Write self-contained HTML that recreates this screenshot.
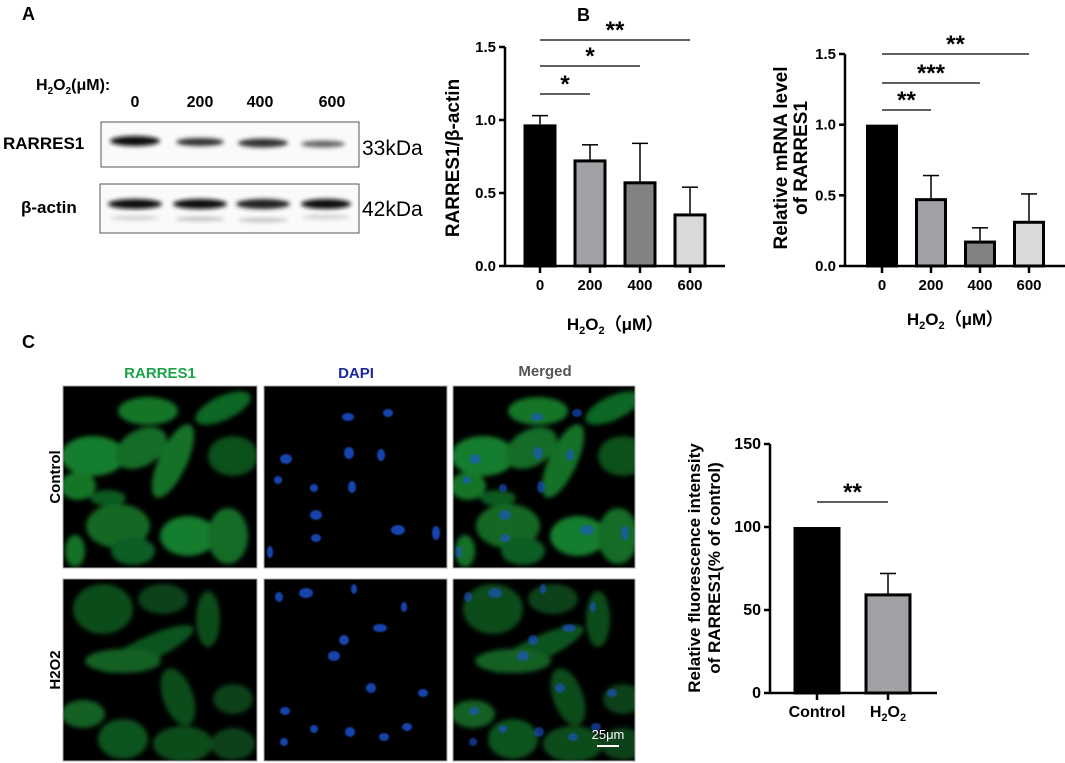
<!DOCTYPE html>
<html><head><meta charset="utf-8"><style>
html,body{margin:0;padding:0;background:#fff;}
svg{display:block;font-family:"Liberation Sans",Arial,sans-serif;}
.b{font-weight:bold;}
</style></head><body>
<svg id="fig" width="1065" height="763" viewBox="0 0 1065 763" xmlns="http://www.w3.org/2000/svg">
<defs>
<filter id="blurG" x="-20%" y="-20%" width="140%" height="140%"><feGaussianBlur stdDeviation="2.5"/></filter>
<filter id="blurB" x="-50%" y="-50%" width="200%" height="200%"><feGaussianBlur stdDeviation="0.8"/></filter>
<filter id="blurBand" x="-20%" y="-100%" width="140%" height="300%"><feGaussianBlur stdDeviation="2"/></filter>
<clipPath id="cp1"><rect x="0" y="0" width="194" height="182"/></clipPath>
<clipPath id="cp3"><rect x="0" y="0" width="182" height="182"/></clipPath>
<g id="cellsCtrl" opacity="0.85">
<ellipse cx="85" cy="25" rx="30" ry="14" fill="#178a30"/>
<ellipse cx="160" cy="22" rx="30" ry="12" fill="#137a2a" transform="rotate(-25 160 22)"/>
<ellipse cx="30" cy="70" rx="32" ry="20" fill="#1a9535"/>
<ellipse cx="78" cy="62" rx="28" ry="18" fill="#157f2e" transform="rotate(-30 78 62)"/>
<ellipse cx="110" cy="75" rx="14" ry="40" fill="#168530" transform="rotate(25 110 75)"/>
<ellipse cx="170" cy="70" rx="25" ry="20" fill="#0f5f22"/>
<ellipse cx="15" cy="100" rx="18" ry="14" fill="#178a30"/>
<ellipse cx="45" cy="112" rx="18" ry="8" fill="#126a26"/>
<ellipse cx="55" cy="140" rx="32" ry="22" fill="#157a2c"/>
<ellipse cx="125" cy="150" rx="28" ry="20" fill="#1a9535"/>
<ellipse cx="165" cy="150" rx="20" ry="28" fill="#157f2e"/>
<ellipse cx="70" cy="165" rx="22" ry="14" fill="#136f28"/>
<ellipse cx="12" cy="165" rx="10" ry="16" fill="#168530"/>
</g>
<g id="nucCtrl" fill="#1f55d8">
<ellipse cx="84" cy="31" rx="6" ry="4"/><ellipse cx="124" cy="27" rx="5" ry="4"/>
<ellipse cx="22" cy="73" rx="6" ry="5"/><ellipse cx="85" cy="67" rx="5" ry="6"/><ellipse cx="117" cy="69" rx="4" ry="6"/>
<ellipse cx="14" cy="94" rx="4" ry="4"/><ellipse cx="50" cy="102" rx="4" ry="4"/><ellipse cx="88" cy="101" rx="4" ry="6"/>
<ellipse cx="52" cy="129" rx="6" ry="5"/><ellipse cx="134" cy="144" rx="7" ry="5"/><ellipse cx="172" cy="147" rx="4" ry="7"/>
<ellipse cx="52" cy="152" rx="5" ry="4"/><ellipse cx="6" cy="166" rx="3" ry="6"/>
</g>
<g id="cellsH" opacity="0.8">
<ellipse cx="40" cy="30" rx="30" ry="25" fill="#125f24"/>
<ellipse cx="100" cy="20" rx="25" ry="15" fill="#0f5220"/>
<ellipse cx="145" cy="40" rx="12" ry="28" fill="#125f24"/>
<ellipse cx="85" cy="70" rx="50" ry="12" fill="#136a26" transform="rotate(-25 85 70)"/>
<ellipse cx="60" cy="82" rx="38" ry="12" fill="#16782c"/>
<ellipse cx="115" cy="118" rx="15" ry="30" fill="#125f24" transform="rotate(-20 115 118)"/>
<ellipse cx="20" cy="135" rx="22" ry="14" fill="#167a2c"/>
<ellipse cx="170" cy="120" rx="20" ry="15" fill="#0f5220"/>
<ellipse cx="60" cy="160" rx="25" ry="20" fill="#136a26"/>
<ellipse cx="120" cy="165" rx="30" ry="18" fill="#125f24"/>
<ellipse cx="170" cy="165" rx="22" ry="16" fill="#0f5220"/>
</g>
<g id="nucH" fill="#1f55d8">
<ellipse cx="15" cy="18" rx="4" ry="5"/><ellipse cx="42" cy="14" rx="7" ry="5"/><ellipse cx="90" cy="10" rx="3" ry="5"/>
<ellipse cx="140" cy="28" rx="3" ry="5"/><ellipse cx="116" cy="49" rx="7" ry="4"/><ellipse cx="80" cy="61" rx="5" ry="5"/>
<ellipse cx="70" cy="77" rx="6" ry="5"/><ellipse cx="107" cy="109" rx="5" ry="5"/><ellipse cx="159" cy="114" rx="5" ry="4"/>
<ellipse cx="21" cy="132" rx="5" ry="4"/><ellipse cx="50" cy="150" rx="4" ry="4"/><ellipse cx="86" cy="153" rx="5" ry="5"/>
<ellipse cx="120" cy="158" rx="5" ry="4"/><ellipse cx="20" cy="163" rx="4" ry="4"/><ellipse cx="143" cy="148" rx="5" ry="4"/>
</g>
</defs>

<!-- Panel labels -->
<text class="b" x="22" y="20" font-size="18">A</text>
<text class="b" x="577" y="21" font-size="18">B</text>
<text class="b" x="22" y="348" font-size="18">C</text>

<!-- Western blot -->
<g>
<text class="b" x="36" y="90" font-size="16">H<tspan font-size="10" dy="4">2</tspan><tspan dy="-4">O</tspan><tspan font-size="10" dy="4">2</tspan><tspan dy="-4">(μM):</tspan></text>
<text class="b" x="135" y="107" font-size="16" text-anchor="middle">0</text>
<text class="b" x="200" y="107" font-size="16" text-anchor="middle">200</text>
<text class="b" x="260" y="107" font-size="16" text-anchor="middle">400</text>
<text class="b" x="332" y="107" font-size="16" text-anchor="middle">600</text>
<text class="b" x="3" y="149" font-size="17">RARRES1</text>
<text class="b" x="21" y="213" font-size="17">β-actin</text>
<rect x="101" y="122" width="258" height="45" fill="#fafafa" stroke="#555" stroke-width="1"/>
<rect x="100" y="184" width="259" height="49" fill="#fafafa" stroke="#555" stroke-width="1"/>
<g filter="url(#blurBand)">
<ellipse cx="135" cy="141" rx="25" ry="5" fill="#111"/>
<ellipse cx="200" cy="142" rx="24" ry="4" fill="#333"/>
<ellipse cx="263" cy="143" rx="25" ry="4.5" fill="#333"/>
<ellipse cx="323" cy="144" rx="22" ry="3.5" fill="#666"/>
<ellipse cx="135" cy="204" rx="27" ry="5" fill="#111"/>
<ellipse cx="200" cy="204" rx="27" ry="5" fill="#111"/>
<ellipse cx="263" cy="204" rx="27" ry="5" fill="#222"/>
<ellipse cx="326" cy="204" rx="25" ry="5" fill="#111"/>
<ellipse cx="135" cy="218" rx="25" ry="2" fill="#ccc"/>
<ellipse cx="200" cy="219" rx="25" ry="2" fill="#bbb"/>
<ellipse cx="263" cy="220" rx="25" ry="2" fill="#bbb"/>
<ellipse cx="326" cy="217" rx="24" ry="2" fill="#ccc"/>
</g>
<text x="362" y="155" font-size="21">33kDa</text>
<text x="362" y="216" font-size="21">42kDa</text>
</g>

<g id="chartA"></g>
<g id="chartB"></g>
<g id="chartC"></g>

<!-- Microscopy -->
<g>
<text class="b" x="160" y="378" font-size="15" fill="#1aa34a" text-anchor="middle">RARRES1</text>
<text class="b" x="356" y="378" font-size="15" fill="#1a2a9a" text-anchor="middle">DAPI</text>
<text class="b" x="545" y="376" font-size="15" fill="#555" text-anchor="middle">Merged</text>
<text class="b" font-size="15" transform="translate(60 477) rotate(-90)" text-anchor="middle">Control</text>
<text class="b" font-size="15" transform="translate(60 670) rotate(-90)" text-anchor="middle">H2O2</text>

<g transform="translate(63 386)"><rect width="194" height="182" fill="#000"/><g clip-path="url(#cp1)"><use href="#cellsCtrl" filter="url(#blurG)"/></g><rect width="194" height="182" fill="none" stroke="#aaa"/></g>
<g transform="translate(264 386)"><rect width="183" height="182" fill="#000"/><use href="#nucCtrl" filter="url(#blurB)" opacity="0.8"/><rect width="183" height="182" fill="none" stroke="#aaa"/></g>
<g transform="translate(453 386)"><rect width="182" height="182" fill="#000"/><g clip-path="url(#cp3)"><use href="#cellsCtrl" filter="url(#blurG)"/><use href="#nucCtrl" filter="url(#blurB)" opacity="0.6"/></g><rect width="182" height="182" fill="none" stroke="#aaa"/></g>

<g transform="translate(63 579)"><rect width="194" height="182" fill="#000"/><g clip-path="url(#cp1)"><use href="#cellsH" filter="url(#blurG)"/></g><rect width="194" height="182" fill="none" stroke="#aaa"/></g>
<g transform="translate(264 579)"><rect width="183" height="182" fill="#000"/><use href="#nucH" filter="url(#blurB)" opacity="0.8"/><rect width="183" height="182" fill="none" stroke="#aaa"/></g>
<g transform="translate(453 579)"><rect width="182" height="182" fill="#000"/><g clip-path="url(#cp3)"><use href="#cellsH" filter="url(#blurG)"/><use href="#nucH" filter="url(#blurB)" opacity="0.6"/></g><rect width="182" height="182" fill="none" stroke="#aaa"/>
<text x="155" y="160" font-size="13" fill="#fff" text-anchor="middle">25μm</text>
<rect x="144" y="166" width="22" height="2" fill="#fff"/></g>
</g>

<script>
const NS = "http://www.w3.org/2000/svg";
// Chart A data
const catsA = ["0","200","400","600"];
const valsA = [0.97, 0.73, 0.58, 0.36];
const errA = [0.06, 0.10, 0.26, 0.18];
const ticksA = [0, 0.5, 1.0, 1.5];
const tickLabA = ["0.0","0.5","1.0","1.5"];
const sigA = ["*","*","**"];
// Chart B data
const catsB = ["0","200","400","600"];
const valsB = [1.0, 0.48, 0.18, 0.32];
const errB = [0, 0.16, 0.09, 0.19];
const ticksB = [0, 0.5, 1.0, 1.5];
const tickLabB = ["0.0","0.5","1.0","1.5"];
const sigB = ["**","***","**"];
// Chart C data
const catsC = ["Control","H2O2"];
const valsC = [100, 60];
const errC = [0, 12];
const ticksC = [0, 50, 100, 150];
const tickLabC = ["0","50","100","150"];
const sigC = ["**"];

const fillsA = ["#000","#a1a1a6","#828282","#d9d9d9"];

function el(tag, attrs, parent){const e=document.createElementNS(NS,tag);for(const k in attrs)e.setAttribute(k,attrs[k]);parent.appendChild(e);return e;}

function drawChart(g, cfg){
  const y = v => cfg.y0 - (v - cfg.dmin)/(cfg.dmax - cfg.dmin)*(cfg.y0 - cfg.y1);
  const x = i => cfg.xFirst + i*cfg.xStep;
  const ya = el("line",{x1:cfg.ax,y1:y(cfg.dmax),x2:cfg.ax,y2:cfg.y0,stroke:"#000","stroke-width":2.5},g);
  
  
  const xa = el("line",{x1:cfg.ax,y1:cfg.y0,x2:cfg.xEnd,y2:cfg.y0,stroke:"#000","stroke-width":2.5},g);
  
  
  cfg.ticks.forEach((t,i)=>{
    const tk = el("line",{x1:cfg.ax-6,y1:y(t),x2:cfg.ax,y2:y(t),stroke:"#000","stroke-width":2.5},g);
    
    
    const tl = el("text",{x:cfg.ax-9,y:y(t)+5,"font-size":cfg.tickFs,"font-weight":"bold","text-anchor":"end"},g);
    
    
    tl.textContent = cfg.tickLab[i];
  });
  cfg.cats.forEach((c,i)=>{
    const cx = x(i), top = y(cfg.vals[i]), bw = cfg.bw;
    if(cfg.err[i]>0){
      const eb = el("line",{x1:cx,y1:y(cfg.vals[i]+cfg.err[i]),x2:cx,y2:top,stroke:"#000","stroke-width":1.5},g);
      
      
      const ec = el("line",{x1:cx-8,y1:y(cfg.vals[i]+cfg.err[i]),x2:cx+8,y2:y(cfg.vals[i]+cfg.err[i]),stroke:"#000","stroke-width":1.5},g);
      
      
    }
    const r = el("rect",{x:cx-bw/2+1.5,y:top+1.5,width:bw-3,height:Math.max(0,cfg.y0-top-1.5),fill:cfg.fills[i],stroke:"#000","stroke-width":3},g);
    
    
    const tk = el("line",{x1:cx,y1:cfg.y0,x2:cx,y2:cfg.y0+7,stroke:"#000","stroke-width":2.5},g);
    
    
    const lb = el("text",{x:cx,y:cfg.y0+24,"font-size":cfg.catFs,"font-weight":"bold","text-anchor":"middle"},g);
    
    
    if(c==="H2O2"){
      const parts=[["H",0,null],["2",4,11],["O",-4,null],["2",4,11]];
      parts.forEach(p=>{const t=el("tspan",{},lb); if(p[1])t.setAttribute("dy",p[1]); if(p[2])t.setAttribute("font-size",p[2]); t.textContent=p[0];});
    } else lb.textContent = c;
  });
  cfg.sig.forEach((s,k)=>{
    const ly = cfg.sigY[k];
    const x1 = x(cfg.sigFrom), x2 = x(cfg.sigTo[k]);
    const ln = el("line",{x1:x1,y1:ly,x2:x2,y2:ly,stroke:"#000","stroke-width":1.2},g);
    
    
    const st = el("text",{x:(x1+x2)/2,y:ly-2,"font-size":24,"font-weight":"bold","text-anchor":"middle"},g);
    
    
    st.textContent = s;
  });
}

drawChart(document.getElementById("chartA"),{
  ax:505,y0:266,y1:47,dmin:0,dmax:1.5,xFirst:540,xStep:50,xEnd:725,bw:33,catFs:15,tickFs:15,
  cats:catsA,vals:valsA,err:errA,ticks:ticksA,tickLab:tickLabA,fills:fillsA,
  sig:sigA,sigY:[94,66,40],sigFrom:0,sigTo:[1,2,3]
});
drawChart(document.getElementById("chartB"),{
  ax:845,y0:266,y1:54,dmin:0,dmax:1.5,xFirst:882,xStep:49,xEnd:1065,bw:32,catFs:15,tickFs:15,
  cats:catsB,vals:valsB,err:errB,ticks:ticksB,tickLab:tickLabB,fills:fillsA,
  sig:sigB,sigY:[110,83,54],sigFrom:0,sigTo:[1,2,3]
});
drawChart(document.getElementById("chartC"),{
  ax:770,y0:693,y1:444,dmin:0,dmax:150,xFirst:817,xStep:71,xEnd:937,bw:47,catFs:16,tickFs:16,
  cats:catsC,vals:valsC,err:errC,ticks:ticksC,tickLab:tickLabC,fills:["#000","#a1a1a6"],
  sig:sigC,sigY:[502],sigFrom:0,sigTo:[1]
});
</script>

<!-- Axis titles -->
<text class="b" font-size="19" transform="translate(459 158) rotate(-90)" text-anchor="middle">RARRES1/β-actin</text>
<text class="b" x="615" y="330" font-size="17" text-anchor="middle">H<tspan font-size="11" dy="4">2</tspan><tspan dy="-4">O</tspan><tspan font-size="11" dy="4">2</tspan><tspan dy="-4">（μM）</tspan></text>
<g font-size="19" class="b" transform="translate(791 158) rotate(-90)">
<text x="0" y="-4" text-anchor="middle">Relative mRNA level</text>
<text x="0" y="16" text-anchor="middle">of RARRES1</text></g>
<text class="b" x="955" y="325" font-size="17" text-anchor="middle">H<tspan font-size="11" dy="4">2</tspan><tspan dy="-4">O</tspan><tspan font-size="11" dy="4">2</tspan><tspan dy="-4">（μM）</tspan></text>
<g font-size="17" class="b" transform="translate(709 568) rotate(-90)">
<text x="0" y="-9" text-anchor="middle">Relative fluorescence intensity</text>
<text x="0" y="11" text-anchor="middle">of RARRES1(% of control)</text></g>
</svg>
</body></html>
